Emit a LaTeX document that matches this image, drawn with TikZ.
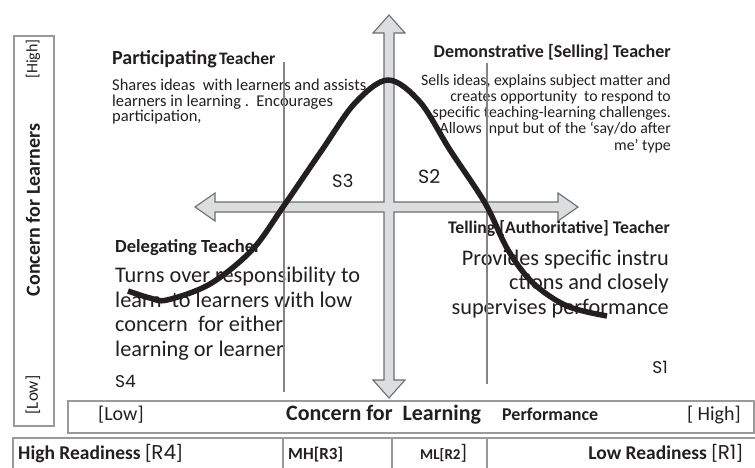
\documentclass[tikz,border=0pt]{standalone}
\usepackage{fontspec}
\setmainfont{Carlito}
\newfontfamily\geo{Poppins}
\definecolor{textc}{HTML}{231F20}
\definecolor{linegray}{HTML}{858585}
\definecolor{framegray}{HTML}{9A9A9A}
\definecolor{arrowfill}{HTML}{DCDDDE}
\definecolor{arrowedge}{HTML}{6D6E70}
\begin{document}
\begin{tikzpicture}[x=1pt,y=-1pt,
  txt/.style={inner sep=0pt, text=textc},
  head/.style={txt, font=\bfseries\fontsize{18}{20}\selectfont},
  big/.style={txt, font=\fontsize{22.3}{24.4}\selectfont},
  slab/.style={txt, font=\geo\fontsize{17}{18}\selectfont},
  gline/.style={draw=linegray, line width=2.6},
  frame/.style={draw=framegray, line width=1.8}]
\useasboundingbox (0,0) rectangle (755,468);
\fill[white] (0,0) rectangle (755,468);

% cross arrow (union shape)
\draw[fill=arrowfill, draw=arrowedge, line width=1.1, line join=miter]
 (389,15) -- (405,33) -- (394,33) -- (394,202) -- (558,202) -- (558,193) -- (578,207)
 -- (558,221) -- (558,212) -- (394,212) -- (394,380) -- (405,380) -- (389,398)
 -- (373,380) -- (384,380) -- (384,212) -- (215,212) -- (215,221) -- (195,207)
 -- (215,193) -- (215,202) -- (384,202) -- (384,33) -- (373,33) -- cycle;

% left frame
\node[frame, minimum width=40, minimum height=390, inner sep=0, anchor=north west] (lbox) at (13,35) {};
\node[txt, rotate=90, font=\fontsize{16}{18}\selectfont] (lhigh) at (33,59) {[High]};
\node[txt, rotate=90, font=\bfseries\fontsize{20}{22}\selectfont] (llab) at (33,210) {Concern for Learners};
\node[txt, rotate=90, font=\fontsize{17}{18}\selectfont] (llow) at (33,395) {[Low]};

% bottom frame
\node[frame, minimum width=686, minimum height=32, inner sep=0, anchor=north west] (bbox) at (67,400) {};
\node[txt, anchor=base west, font=\fontsize{20}{22}\selectfont] (blow) at (98,420) {[Low]};
\node[txt, anchor=base west, font=\bfseries\fontsize{22}{24}\selectfont] (blab) at (286,420) {Concern for\ \ Learning};
\node[txt, anchor=base west, font=\bfseries\fontsize{18}{20}\selectfont] (bperf) at (502,420) {Performance};
\node[txt, anchor=base east, font=\fontsize{20}{22}\selectfont] (bhigh) at (741,420) {[ High]};

% readiness row
\draw[frame] (13,472) -- (13,438) -- (760,438);
\draw[frame] (283,438) -- (283,470);
\draw[frame] (392,438) -- (392,470);
\draw[frame] (487,438) -- (487,470);
\node[txt, anchor=base west, font=\bfseries\fontsize{19.5}{20}\selectfont] (r4) at (18,459) {High Readiness {\mdseries\fontsize{21}{22}\selectfont[}{\geo\mdseries\fontsize{20}{22}\selectfont R4}{\mdseries\fontsize{21}{22}\selectfont]}};
\node[txt, anchor=base west, font=\bfseries\fontsize{17}{20}\selectfont] (r3) at (288,459) {MH[R3]};
\node[txt, anchor=base west, font=\bfseries\fontsize{15}{20}\selectfont] (r2) at (420,459) {ML[R2{\mdseries\fontsize{21}{22}\selectfont]}};
\node[txt, anchor=base east, font=\bfseries\fontsize{19.5}{20}\selectfont] (r1) at (743,459) {Low Readiness {\mdseries\fontsize{21}{22}\selectfont[}{\geo\mdseries\fontsize{20}{22}\selectfont R1}{\mdseries\fontsize{21}{22}\selectfont]}};

% quadrant texts (base anchor = baseline of last line)
\node[txt, anchor=base west] (ph) at (112,65) {{\bfseries\fontsize{20}{22}\selectfont Participating} {\bfseries\fontsize{17.5}{22}\selectfont Teacher}};
\node[txt, anchor=base west, align=left, font=\fontsize{16.5}{15.5}\selectfont] (pt) at (112,122) {Shares ideas\ \ with learners and assists\\learners in learning .\ \ Encourages\\participation,};

\node[head, anchor=base east] (dh) at (671,58) {Demonstrative [Selling] Teacher};
\node[txt, anchor=base east, align=right, font=\fontsize{15.8}{16.2}\selectfont] (dt) at (671,150) {Sells ideas, explains subject matter and\\creates opportunity\ \ to respond to\\specific teaching-learning challenges.\\Allows input but of the `say/do after\\me' type};

\node[head, anchor=base west, font=\bfseries\fontsize{18.5}{20}\selectfont] (gh) at (115,252) {Delegating Teacher};
\node[big, anchor=base west, align=left] (gt) at (115,356) {Turns over responsibility to\\learn\ \ to learners with low\\concern\ \ for either\\learning or learner};
\node[slab, anchor=base west] (s4) at (115,387) {S4};

\node[head, anchor=base east, font=\bfseries\fontsize{17.7}{20}\selectfont] (th) at (670,233) {Telling [Authoritative] Teacher};
\node[big, anchor=base east, align=right] (tt) at (669,314) {Provides specific instru\\ctions and closely\\supervises performance};
\node[slab, anchor=base east] (s1) at (668,373) {S1};

\node[slab, anchor=base west, font=\geo\fontsize{18}{18}\selectfont] (s3) at (332,187) {S3};
\node[slab, anchor=base west, font=\geo\fontsize{19}{19}\selectfont] (s2) at (418,183) {S2};

% vertical gray lines
\coordinate (v1t) at (284,62); \coordinate (v1b) at (284,392);
\coordinate (v2t) at (487,63); \coordinate (v2b) at (487,384);
\draw[gline] (v1t) -- (v1b);
\draw[gline] (v2t) -- (v2b);

% bell curve
\draw[line width=5.5, textc, line cap=butt] plot[smooth, tension=0.55] coordinates {
 (128,291) (150,298) (167,300) (210,284) (252,250) (283,207) (322,150) (355,103) (388,80)
 (420,102) (450,150) (485,203) (508,250) (533,283) (567,306) (607,316)};
\end{tikzpicture}
\end{document}
